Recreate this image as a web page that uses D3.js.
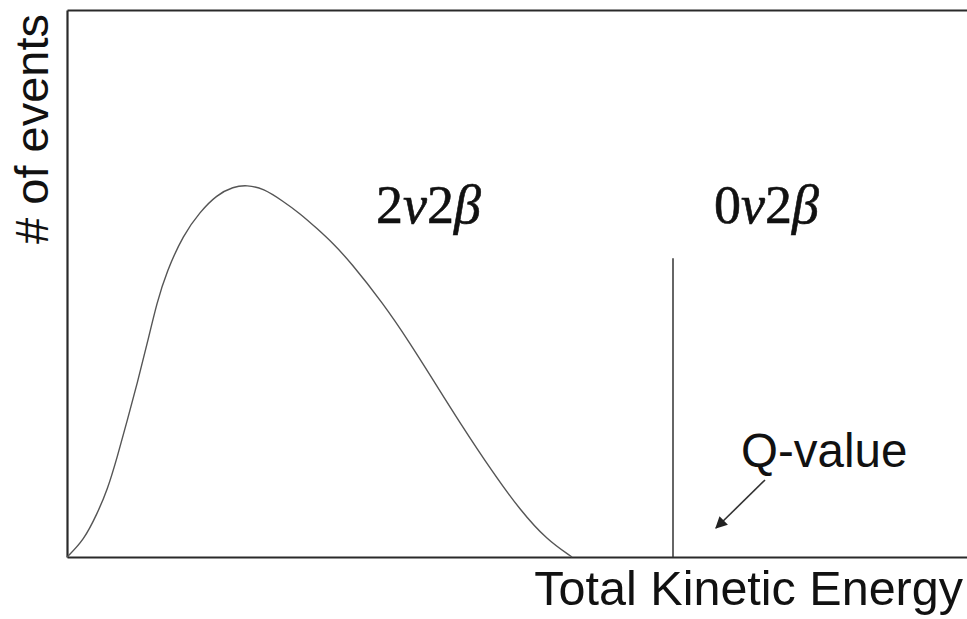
<!DOCTYPE html>
<html>
<head>
<meta charset="utf-8">
<script src="https://cdn.jsdelivr.net/npm/d3@7"></script>
<style>
  html, body { margin: 0; padding: 0; background: #fff; }
  svg { display: block; }
</style>
</head>
<body>
<svg id="chart" width="967" height="619"></svg>
<script>
// Two-neutrino double beta spectrum (arbitrary energy units, arbitrary counts)
const energy = [0, 0.17, 0.303, 0.403, 0.503, 0.603, 0.703, 0.803, 0.90, 0.997,
                1.163, 1.33, 1.497, 1.663, 1.797, 1.963, 2.163, 2.33, 2.497, 2.663,
                2.83, 3.16, 3.43, 3.66, 3.93, 4.26, 4.53, 4.80, 5.05];
const counts = [0, 3.1, 8.0, 12.2, 18.3, 25.0, 31.8, 39.1, 46.6, 52.2,
                58.9, 63.1, 66.2, 67.7, 68.0, 67.4, 65.0, 62.8, 60.1, 57.3,
                54.0, 46.4, 39.1, 32.4, 24.5, 15.4, 8.6, 3.1, 0];

// Neutrinoless peak: a single line at the Q-value
const qValue = [6.06];
const qPeak = [54.6];

const xDomain = [0, 9];
const yDomain = [0, 100];

const labels = {
  y: "# of events",
  x: "Total Kinetic Energy",
  q: "Q-value",
  twoNu: ["2", "\u03BD", "2", "\u03B2"],
  zeroNu: ["0", "\u03BD", "2", "\u03B2"]
};

const svg = d3.select("#chart");
const margin = { left: 67, right: 0, top: 10, bottom: 62 };
const W = 967, H = 619;

const x = d3.scaleLinear().domain(xDomain).range([margin.left, W - margin.right]);
const y = d3.scaleLinear().domain(yDomain).range([H - margin.bottom, margin.top]);

const axisColor = "#2a2a2a";

// Frame: bottom, left and top edges (no ticks)
svg.append("g")
  .attr("transform", `translate(0,${y(0)})`)
  .call(d3.axisBottom(x).ticks(0).tickSizeOuter(0));
svg.append("g")
  .attr("transform", `translate(${x(0)},0)`)
  .call(d3.axisLeft(y).ticks(0).tickSizeOuter(0));
svg.append("g")
  .attr("transform", `translate(0,${y(yDomain[1])})`)
  .call(d3.axisTop(x).ticks(0).tickSizeOuter(0));
svg.selectAll(".domain")
  .attr("stroke", axisColor)
  .attr("stroke-width", 2.2);

// Continuous 2νββ spectrum
const line = d3.line()
  .x((d, i) => x(energy[i]))
  .y(d => y(d))
  .curve(d3.curveBasis);

svg.append("path")
  .datum(counts)
  .attr("d", line)
  .attr("fill", "none")
  .attr("stroke", "#555")
  .attr("stroke-width", 1.4);

// 0νββ line at the endpoint
svg.selectAll(".qline")
  .data(qValue)
  .enter().append("line")
  .attr("class", "qline")
  .attr("x1", d => x(d)).attr("x2", d => x(d))
  .attr("y1", y(0)).attr("y2", (d, i) => y(qPeak[i]))
  .attr("stroke", "#333")
  .attr("stroke-width", 1.5);

// Axis titles
svg.append("text")
  .attr("transform", `translate(${x(0) - 19},${y(yDomain[1]) + 4}) rotate(-90)`)
  .attr("text-anchor", "end")
  .attr("font-family", "'Liberation Sans', Arial, sans-serif")
  .attr("font-size", 47)
  .attr("fill", "#111")
  .text(labels.y);

svg.append("text")
  .attr("x", W - 4)
  .attr("y", 605)
  .attr("text-anchor", "end")
  .attr("font-family", "'Liberation Sans', Arial, sans-serif")
  .attr("font-size", 48.5)
  .attr("fill", "#111")
  .text(labels.x);

// Q-value annotation with arrow
svg.append("defs").append("marker")
  .attr("id", "arrowhead")
  .attr("viewBox", "0 0 10 10")
  .attr("refX", 9).attr("refY", 5)
  .attr("markerWidth", 16).attr("markerHeight", 12)
  .attr("markerUnits", "userSpaceOnUse")
  .attr("orient", "auto")
  .append("path")
  .attr("d", "M0,0 L10,5 L0,10 z")
  .attr("fill", "#222");

svg.append("text")
  .attr("x", 741)
  .attr("y", 467)
  .attr("font-family", "'Liberation Sans', Arial, sans-serif")
  .attr("font-size", 47.5)
  .attr("fill", "#111")
  .text(labels.q);

svg.append("line")
  .attr("x1", 765).attr("y1", 480)
  .attr("x2", 716).attr("y2", 528)
  .attr("stroke", "#333")
  .attr("stroke-width", 1.6)
  .attr("marker-end", "url(#arrowhead)");

// Process labels: upright digits, italic Greek letters
function mathLabel(parts, px, py) {
  const t = svg.append("text")
    .attr("x", px).attr("y", py)
    .attr("font-family", "'Liberation Serif', 'Times New Roman', serif")
    .attr("font-size", 54)
    .attr("fill", "#111")
    .attr("stroke", "#111")
    .attr("stroke-width", 0.6);
  parts.forEach(p => {
    t.append("tspan")
      .attr("font-style", /[0-9]/.test(p) ? "normal" : "italic")
      .text(p);
  });
}
mathLabel(labels.twoNu, 376, 223);
mathLabel(labels.zeroNu, 714, 223);
</script>
</body>
</html>
